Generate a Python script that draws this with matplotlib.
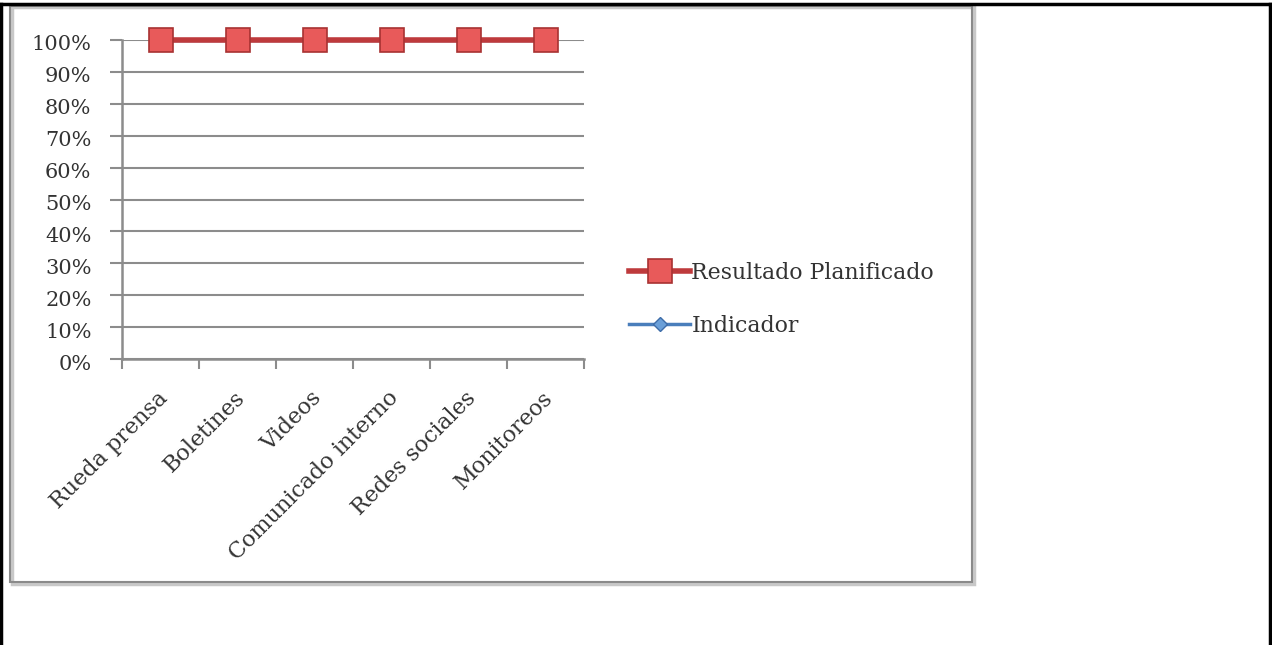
import matplotlib
matplotlib.use("Agg")
import matplotlib.pyplot as plt
import matplotlib.transforms as mtransforms
from matplotlib.patches import Rectangle
from matplotlib.lines import Line2D

categories = ["Rueda prensa", "Boletines", "Videos", "Comunicado interno",
              "Redes sociales", "Monitoreos"]
resultado_planificado = [1.0, 1.0, 1.0, 1.0, 1.0, 1.0]
indicador = [1.0, 1.0, 1.0, 1.0, 1.0, 1.0]
y_ticks = [0.0, 0.1, 0.2, 0.3, 0.4, 0.5, 0.6, 0.7, 0.8, 0.9, 1.0]
y_tick_labels = ["0%", "10%", "20%", "30%", "40%", "50%", "60%", "70%",
                 "80%", "90%", "100%"]

W, H, DPI = 1272, 645, 100
FONT = "DejaVu Serif"
FS = 15
TXT = "#333333"
GRID = "#8c8c8c"

fig = plt.figure(figsize=(W / DPI, H / DPI), dpi=DPI)
fig.patch.set_facecolor("white")


def fx(px):
    return px / W


def fy(py):
    return 1 - py / H


# Outer table-cell frame
for (x0, y0, x1, y1) in [(0, 4, W, 4), (1, 4, 1, H), (1270, 4, 1270, H)]:
    fig.add_artist(Line2D([fx(x0), fx(x1)], [fy(y0), fy(y1)], color="black",
                          lw=2.5, transform=fig.transFigure))

# Chart box with soft shadow
fig.add_artist(Rectangle((fx(12), fy(584)), fx(962), fy(7) - fy(584),
                         transform=fig.transFigure, facecolor="none",
                         edgecolor="#c8c8c8", lw=2.5))
fig.add_artist(Rectangle((fx(10), fy(582)), fx(962), fy(6) - fy(582),
                         transform=fig.transFigure, facecolor="none",
                         edgecolor="#8a8a8a", lw=1.5))

# Plot area
left, right, top, bottom = 122, 584, 40, 359
ax = fig.add_axes([fx(left), fy(bottom), fx(right - left), fy(top) - fy(bottom)])
ax.set_facecolor("none")

x = list(range(len(categories)))
ax.plot(x, indicador, color="#4a7ebb", lw=2.5, marker="D", markersize=7,
        markerfacecolor="#6a9fd8", markeredgecolor="#3d6ca8", zorder=3,
        clip_on=False, label="Indicador")
ax.plot(x, resultado_planificado, color="#be3a3c", lw=4, marker="s",
        markersize=17, markerfacecolor="#e85a5a", markeredgecolor="#a83232",
        markeredgewidth=1.2, zorder=4, clip_on=False,
        label="Resultado Planificado")

ax.set_xlim(-0.5, len(categories) - 0.5)
ax.set_ylim(0, 1)
ax.set_yticks(y_ticks)
ax.set_yticklabels(y_tick_labels, fontfamily=FONT, fontsize=FS, color=TXT)
ax.set_xticks([i - 0.5 for i in range(len(categories) + 1)], minor=False)
ax.set_xticklabels([])
ax.set_xticks(x, minor=True)
ax.set_xticklabels(categories, minor=True, rotation=45, ha="right",
                   rotation_mode="anchor", fontfamily=FONT, fontsize=16,
                   color=TXT)
ax.tick_params(axis="x", which="minor", length=0, pad=20)
ax.tick_params(axis="x", which="major", length=7, width=1.5, color=GRID,
               direction="out")
ax.tick_params(axis="y", length=9, width=1.5, color=GRID, direction="out",
               pad=13)
# y labels sit a little below their gridlines
shift = mtransforms.ScaledTranslation(0, -3 / DPI, fig.dpi_scale_trans)
for lab in ax.get_yticklabels():
    lab.set_transform(lab.get_transform() + shift)
shift_x = mtransforms.ScaledTranslation(-4 / DPI, 0, fig.dpi_scale_trans)
for lab in ax.get_xticklabels(minor=True):
    lab.set_transform(lab.get_transform() + shift_x)

ax.yaxis.grid(True, color=GRID, lw=1.5)
ax.set_axisbelow(True)
for s in ["top", "right"]:
    ax.spines[s].set_visible(False)
for s in ["left", "bottom"]:
    ax.spines[s].set_color(GRID)
    ax.spines[s].set_linewidth(1.8)

handles, labels = ax.get_legend_handles_labels()
leg = fig.legend(handles[::-1], labels[::-1], loc="upper left",
                 bbox_to_anchor=(fx(620), fy(253)), frameon=False,
                 prop={"family": FONT, "size": 15.8}, handlelength=2.8,
                 handletextpad=0.05, labelspacing=1.4, borderaxespad=0)
for t in leg.get_texts():
    t.set_color(TXT)

fig.savefig("out.png", dpi=DPI)
